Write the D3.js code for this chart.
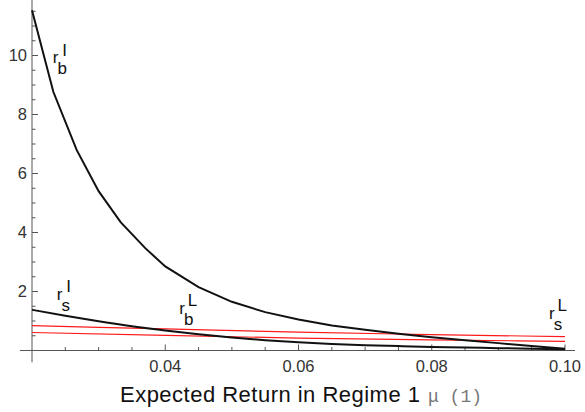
<!DOCTYPE html>
<html><head><meta charset="utf-8">
<script src="https://cdn.jsdelivr.net/npm/d3@7"></script>
<style>body{margin:0;background:#fff}svg{display:block}</style>
</head><body>
<script>
// Data
const xTopCurve = [0.020,0.0232,0.0267,0.030,0.0333,0.037,0.040,0.045,0.050,0.055,0.060,0.065,0.070,0.075,0.080,0.085,0.090,0.095,0.100];
const rbI = [11.53,8.77,6.8,5.4,4.35,3.47,2.85,2.15,1.65,1.3,1.05,0.85,0.70,0.57,0.45,0.35,0.25,0.15,0.06];
const xGrid = [0.020,0.025,0.030,0.035,0.040,0.045,0.050,0.055,0.060,0.065,0.070,0.075,0.080,0.085,0.090,0.095,0.100];
const rsI = [1.38,1.18,0.99,0.82,0.68,0.55,0.44,0.35,0.28,0.22,0.18,0.15,0.12,0.10,0.08,0.06,0.04];
const xRed = [0.02,0.04,0.06,0.08,0.10];
const redUpper = [0.84,0.73,0.62,0.54,0.47];
const redLower = [0.61,0.51,0.42,0.36,0.31];
const xTickVals = [0.04,0.06,0.08,0.10];
const xTickLabels = ["0.04","0.06","0.08","0.10"];
const yTickVals = [2,4,6,8,10];
const yTickLabels = ["2","4","6","8","10"];
const axisTitle = "Expected Return in Regime 1";
const axisTitleSym = "\u03bc (1)";

const W = 585, H = 412;
const svg = d3.select("body").append("svg").attr("width", W).attr("height", H);
const x = d3.scaleLinear().domain([0.02, 0.10]).range([32, 565]);
const y = d3.scaleLinear().domain([0, 10]).range([350.5, 55.5]);

const axisColor = "#555";
// x axis line
svg.append("line").attr("x1", x(0.0182)).attr("x2", x(0.1015))
  .attr("y1", y(0)).attr("y2", y(0)).attr("stroke", axisColor).attr("stroke-width", 1);
// y axis line
svg.append("line").attr("x1", x(0.02)).attr("x2", x(0.02))
  .attr("y1", y(11.9)).attr("y2", y(-0.4)).attr("stroke", axisColor).attr("stroke-width", 1);

// x ticks (inward: upward)
const xMinor = d3.range(0, 17).map(i => 0.02 + i * 0.005).filter(v => v > 0.0201);
svg.append("g").selectAll("line").data(xMinor).join("line")
  .attr("x1", d => x(d)).attr("x2", d => x(d))
  .attr("y1", y(0)).attr("y2", d => y(0) - (xTickVals.some(t => Math.abs(t - d) < 1e-6) ? 6 : 3.5))
  .attr("stroke", axisColor).attr("stroke-width", 1);
// y ticks (inward: rightward)
const yMinor = d3.range(1, 24).map(i => i * 0.5);
svg.append("g").selectAll("line").data(yMinor).join("line")
  .attr("x1", x(0.02)).attr("x2", d => x(0.02) + (yTickVals.includes(d) ? 6 : 3.5))
  .attr("y1", d => y(d)).attr("y2", d => y(d))
  .attr("stroke", axisColor).attr("stroke-width", 1);

// tick labels
svg.append("g").selectAll("text").data(xTickVals).join("text")
  .attr("x", d => x(d)).attr("y", 372).attr("text-anchor", "middle")
  .attr("font-family", "Liberation Sans, Arial, sans-serif").attr("font-size", 16.5).attr("fill", "#333")
  .text((d, i) => xTickLabels[i]);
svg.append("g").selectAll("text").data(yTickVals).join("text")
  .attr("x", 27).attr("y", d => y(d) + 5.8).attr("text-anchor", "end")
  .attr("font-family", "Liberation Sans, Arial, sans-serif").attr("font-size", 16.5).attr("fill", "#333")
  .text((d, i) => yTickLabels[i]);

// axis title
svg.append("text").attr("x", 120).attr("y", 402).attr("textLength", 300)
  .attr("font-family", "Liberation Sans, Arial, sans-serif").attr("font-size", 22).attr("fill", "#111")
  .text(axisTitle);
svg.append("text").attr("x", 428).attr("y", 402)
  .attr("font-family", "Liberation Mono, Courier New, monospace").attr("font-size", 18)
  .attr("fill", "#777").text(axisTitleSym);

// curves
svg.append("clipPath").attr("id", "clip").append("rect")
  .attr("x", 0).attr("y", 0).attr("width", W).attr("height", 351);
const line = d3.line().x(d => x(d[0])).y(d => y(d[1])).curve(d3.curveMonotoneX);
const g = svg.append("g").attr("clip-path", "url(#clip)");
g.append("path").datum(xRed.map((v, i) => [v, redUpper[i]])).attr("d", line)
  .attr("fill", "none").attr("stroke", "#ff1a1a").attr("stroke-width", 1.2);
g.append("path").datum(xRed.map((v, i) => [v, redLower[i]])).attr("d", line)
  .attr("fill", "none").attr("stroke", "#ff1a1a").attr("stroke-width", 1.2);
g.append("path").datum(xTopCurve.map((v, i) => [v, rbI[i]])).attr("d", d3.line().x(d => x(d[0])).y(d => y(d[1])))
  .attr("fill", "none").attr("stroke", "#111").attr("stroke-width", 2);
g.append("path").datum(xGrid.map((v, i) => [v, rsI[i]])).attr("d", line)
  .attr("fill", "none").attr("stroke", "#111").attr("stroke-width", 2);

// curve labels (data coordinates of the base letter)
const labels = [
  {x: 0.0231, y: 9.73, sub: "b", sup: "I"},
  {x: 0.0237, y: 1.72, sub: "s", sup: "I"},
  {x: 0.0421, y: 1.24, sub: "b", sup: "L"},
  {x: 0.0976, y: 1.07, sub: "s", sup: "L"}
];
labels.forEach(l => {
  const gx = x(l.x), gy = y(l.y);
  const lg = svg.append("g").attr("font-family", "Liberation Sans, Arial, sans-serif").attr("font-size", 17).attr("fill", "#111");
  lg.append("text").attr("x", gx).attr("y", gy).text("r");
  lg.append("text").attr("x", gx + 4.8).attr("y", gy + 11).text(l.sub);
  lg.append("text").attr("x", gx + (l.sup === "I" ? 9.5 : 8.5)).attr("y", gy - 7.5).text(l.sup);
});
</script>
</body></html>
